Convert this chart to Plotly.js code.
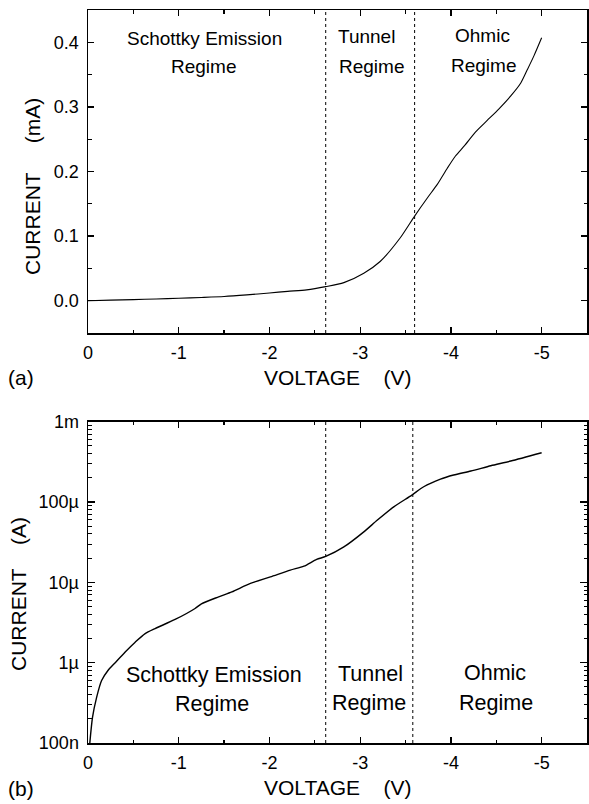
<!DOCTYPE html>
<html><head><meta charset="utf-8">
<script src="https://cdn.plot.ly/plotly-3.0.1.min.js"></script>
<style>html,body{margin:0;padding:0;background:#fff}#chart{width:589px;height:804px}</style>
</head><body><div id="chart"></div>
<script>
// ---- data ----
const voltageLinear = [0, -0.25, -0.5, -0.75, -1.0, -1.25, -1.5, -1.75, -2.0, -2.2, -2.41, -2.62, -2.82, -3.04, -3.22, -3.44, -3.6, -3.74, -3.85, -3.96, -4.05, -4.15, -4.27, -4.40, -4.53, -4.66, -4.77, -4.84, -4.915, -5.0];
const currentLinear_mA = [0, 0.0009, 0.0017, 0.0027, 0.0037, 0.005, 0.0065, 0.009, 0.012, 0.0145, 0.0168, 0.0218, 0.028, 0.0426, 0.0607, 0.097, 0.131, 0.159, 0.18, 0.205, 0.224, 0.240, 0.261, 0.279, 0.297, 0.317, 0.337, 0.357, 0.379, 0.407];

const voltageLog = [-0.02, -0.05, -0.095, -0.15, -0.22, -0.30, -0.41, -0.52, -0.63, -0.74, -0.96, -1.18, -1.25, -1.44, -1.585, -1.79, -2.01, -2.23, -2.38, -2.52, -2.62, -2.82, -3.04, -3.19, -3.37, -3.57, -3.70, -3.885, -4.03, -4.22, -4.44, -4.66, -5.0];
const currentLog_A = [1.0e-7, 2.1e-7, 3.7e-7, 6.0e-7, 8.0e-7, 1.0e-6, 1.36e-6, 1.8e-6, 2.3e-6, 2.66e-6, 3.45e-6, 4.73e-6, 5.4e-6, 6.6e-6, 7.6e-6, 9.7e-6, 1.17e-5, 1.42e-5, 1.59e-5, 1.93e-5, 2.1e-5, 2.76e-5, 4.25e-5, 5.96e-5, 8.7e-5, 1.22e-4, 1.55e-4, 1.93e-4, 2.17e-4, 2.43e-4, 2.83e-4, 3.24e-4, 4.11e-4];

const boundaryTop = [-2.62, -3.6];
const boundaryBottom = [-2.62, -3.58];

const voltageTickVals = [0, -1, -2, -3, -4, -5];
const voltageTickText = ['0', '-1', '-2', '-3', '-4', '-5'];
const linTickVals = [0, 0.1, 0.2, 0.3, 0.4];
const linTickText = ['0.0', '0.1', '0.2', '0.3', '0.4'];
const logTickVals = [1e-7, 1e-6, 1e-5, 1e-4, 1e-3];
const logTickText = ['100n', '1µ', '10µ', '100µ', '1m'];

const regimeNames = [['Schottky Emission', 'Regime'], ['Tunnel', 'Regime'], ['Ohmic', 'Regime']];

// ---- layout helpers ----
const FONT = 'Liberation Sans, Arial, Helvetica, sans-serif';
const W = 589, H = 804, ML = 88, MR = 2, MT = 10, MB = 61;
const PW = W - ML - MR, PH = H - MT - MB;
const px2x = p => (p - ML) / PW;
const px2y = p => (H - MB - p) / PH;

const minorLog = [];
for (let e = -7; e < -3; e++) for (let m = 2; m <= 9; m++) minorLog.push(m * Math.pow(10, e));

function xAxis(anchor) {
  return {
    anchor: anchor, domain: [0, 1], range: [0, -5.5],
    tickmode: 'array', tickvals: voltageTickVals, ticktext: voltageTickText,
    ticks: 'inside', ticklen: 6, tickwidth: 1.3, tickcolor: '#000',
    showline: true, linewidth: 1.5, linecolor: '#000', mirror: 'ticks',
    showgrid: false, zeroline: false,
    tickfont: {family: FONT, size: 18, color: '#000'},
    ticklabelstandoff: 3,
    minor: {ticks: 'inside', ticklen: 3.5, tickwidth: 1.2, tickcolor: '#000', tick0: 0, dtick: 0.5, showgrid: false}
  };
}

const traces = [
  {x: voltageLinear, y: currentLinear_mA, xaxis: 'x', yaxis: 'y', mode: 'lines',
   line: {color: '#000', width: 1.1, shape: 'spline', smoothing: 0.7}, hoverinfo: 'skip'},
  {x: voltageLog, y: currentLog_A, xaxis: 'x2', yaxis: 'y2', mode: 'lines',
   line: {color: '#000', width: 1.4, shape: 'spline', smoothing: 0.7}, hoverinfo: 'skip'}
];

const shapes = [];
boundaryTop.forEach(b => shapes.push({type: 'line', xref: 'x', yref: 'y domain', x0: b, x1: b, y0: 0, y1: 1,
  line: {color: '#000', width: 1, dash: 'dot'}}));
boundaryBottom.forEach(b => shapes.push({type: 'line', xref: 'x2', yref: 'y2 domain', x0: b, x1: b, y0: 0, y1: 1,
  line: {color: '#000', width: 1, dash: 'dot'}}));

const ann = [];
function txt(text, x, y, size, extra) {
  ann.push(Object.assign({text: text, x: x, y: y, xref: 'paper', yref: 'paper', showarrow: false,
    xanchor: 'center', yanchor: 'middle', font: {family: FONT, size: size, color: '#000'}}, extra || {}));
}
const NB = '\u00A0';
// axis titles
txt('CURRENT' + NB.repeat(5) + '(mA)', px2x(32), px2y(187), 21, {textangle: -90});
txt('CURRENT' + NB.repeat(4) + '(A)', px2x(18), px2y(594), 21, {textangle: -90});
txt('VOLTAGE' + NB.repeat(4) + '(V)', px2x(337.5), px2y(378), 21);
txt('VOLTAGE' + NB.repeat(4) + '(V)', px2x(337.5), px2y(787), 21);
txt('(a)', px2x(20.5), px2y(378), 21);
txt('(b)', px2x(20.5), px2y(788), 21);

// regime labels (x in data units, y in pixels -> paper)
const topX = [[-1.281, -1.271], [-3.067, -3.12], [-4.351, -4.36]];
const topY = [[38.3, 66.7], [37, 67], [36, 65.5]];
const botX = [[-1.392, -1.363], [-3.118, -3.097], [-4.489, -4.498]];
const botY = [[674.5, 704.2], [673.7, 703.3], [673.3, 703.3]];
regimeNames.forEach((lines, i) => {
  lines.forEach((t, j) => {
    txt(t, topX[i][j], px2y(topY[i][j]), 19, {xref: 'x'});
    txt(t, botX[i][j], px2y(botY[i][j]), 21.5, {xref: 'x2'});
  });
});

const layout = {
  width: W, height: H, margin: {l: ML, r: MR, t: MT, b: MB},
  paper_bgcolor: '#fff', plot_bgcolor: '#fff', showlegend: false,
  font: {family: FONT, color: '#000'},
  xaxis: xAxis('y'),
  yaxis: {
    anchor: 'x', domain: [px2y(333), 1], range: [-0.05, 0.45],
    tickmode: 'array', tickvals: linTickVals, ticktext: linTickText,
    ticks: 'inside', ticklen: 6, tickwidth: 1.3, tickcolor: '#000',
    showline: true, linewidth: 1.5, linecolor: '#000', mirror: 'ticks',
    showgrid: false, zeroline: false,
    tickfont: {family: FONT, size: 18, color: '#000'}, ticklabelstandoff: 4,
    minor: {ticks: 'inside', ticklen: 3.5, tickwidth: 1.2, tickcolor: '#000', tick0: 0, dtick: 0.05, showgrid: false}
  },
  xaxis2: xAxis('y2'),
  yaxis2: {
    anchor: 'x2', domain: [0, px2y(421.7)], type: 'log', range: [-7, -3],
    tickmode: 'array', tickvals: logTickVals, ticktext: logTickText,
    ticks: 'inside', ticklen: 7, tickwidth: 1.3, tickcolor: '#000',
    showline: true, linewidth: 1.5, linecolor: '#000', mirror: 'ticks',
    showgrid: false, zeroline: false,
    tickfont: {family: FONT, size: 18, color: '#000'}, ticklabelstandoff: 4,
    minor: {ticks: 'inside', ticklen: 3.5, tickwidth: 1, tickcolor: '#000', tickmode: 'array', tickvals: minorLog, showgrid: false}
  },
  shapes: shapes,
  annotations: ann
};

Plotly.newPlot('chart', traces, layout, {staticPlot: true, displayModeBar: false});
</script></body></html>
